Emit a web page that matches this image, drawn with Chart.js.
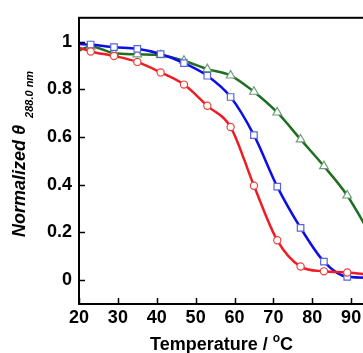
<!DOCTYPE html>
<html><head><meta charset="utf-8">
<script src="https://cdn.jsdelivr.net/npm/chart.js@4"></script>
<style>
html,body{margin:0;padding:0;overflow:hidden;background:#fff;width:363px;height:353px}
#wrap{position:absolute;left:0;top:0;width:420px;height:353px}
canvas{display:block}
</style></head>
<body><div id="wrap"><canvas id="c" width="420" height="353" style="width:420px;height:353px"></canvas></div>
<script>
// Temperature (°C) of each sample; first point (20) carries no marker
const temps = [20, 23, 29, 35, 41, 47, 53, 59, 65, 71, 77, 83, 89, 95];
const redSeries   = [0.975, 0.959, 0.940, 0.915, 0.871, 0.820, 0.731, 0.642, 0.396, 0.167, 0.057, 0.037, 0.032, 0.022];
const blueSeries  = [0.990, 0.988, 0.977, 0.970, 0.948, 0.910, 0.857, 0.768, 0.608, 0.392, 0.219, 0.078, 0.014, 0.010];
const greenSeries = [0.963, 0.980, 0.952, 0.947, 0.943, 0.920, 0.885, 0.858, 0.790, 0.703, 0.590, 0.478, 0.355, 0.190];
const xTicks = [20, 30, 40, 50, 60, 70, 80, 90, 100];
const yTicks = [0, 0.2, 0.4, 0.6, 0.8, 1];
const yTickLabels = ['0', '0.2', '0.4', '0.6', '0.8', '1'];
const xTitle = 'Temperature / ';
const xTitleSup = 'o';
const xTitleEnd = 'C';
const yTitle = 'Normalized \u03B8';
const yTitleSub = '288.0 nm';

function pts(vals){ return temps.map((t,i)=>({x:t, y:vals[i]})); }
const noFirst = ctx => ctx.dataIndex === 0 ? 0 : undefined;

function ds(label, vals, line, mark, style, r, order){
  return {
    label, data: pts(vals), borderColor: line, borderWidth: 2.5,
    cubicInterpolationMode: 'monotone', fill: false,
    pointStyle: style, pointBorderColor: mark, pointBackgroundColor: '#fff',
    pointBorderWidth: 1.2,
    pointRadius: ctx => ctx.dataIndex === 0 ? 0 : r,
    pointHoverRadius: r, order
  };
}

const decor = {
  id: 'decor',
  afterDraw(chart){
    const {ctx, chartArea:a, scales:{x, y}} = chart;
    ctx.save();
    ctx.strokeStyle = '#000';
    ctx.lineWidth = 2;
    ctx.strokeRect(a.left, a.top, a.right - a.left, a.bottom - a.top);
    ctx.lineWidth = 1.5;
    ctx.beginPath();
    yTicks.forEach(v => { const py = Math.round(y.getPixelForValue(v)) + 0.5; ctx.moveTo(a.left, py); ctx.lineTo(a.left + 6, py); });
    xTicks.forEach(v => { const px = Math.round(x.getPixelForValue(v)) + 0.5; ctx.moveTo(px, a.bottom); ctx.lineTo(px, a.bottom - 6); });
    ctx.stroke();
    // y title
    ctx.fillStyle = '#000';
    ctx.save();
    ctx.translate(25, 237);
    ctx.rotate(-Math.PI/2);
    ctx.font = 'italic bold 18px "Liberation Sans", Arial, sans-serif';
    ctx.textAlign = 'left'; ctx.textBaseline = 'alphabetic';
    ctx.fillText(yTitle, 0, 0);
    const w = ctx.measureText(yTitle).width;
    ctx.font = 'italic bold 11px "Liberation Sans", Arial, sans-serif';
    ctx.fillText(yTitleSub, w + 7, 8);
    ctx.restore();
    // x title
    ctx.font = 'bold 18px "Liberation Sans", Arial, sans-serif';
    ctx.textAlign = 'left'; ctx.textBaseline = 'alphabetic';
    let tx = 150;
    ctx.fillText(xTitle, tx, 350);
    tx += ctx.measureText(xTitle).width;
    ctx.font = 'bold 12px "Liberation Sans", Arial, sans-serif';
    ctx.fillText(xTitleSup, tx, 342);
    tx += ctx.measureText(xTitleSup).width;
    ctx.font = 'bold 18px "Liberation Sans", Arial, sans-serif';
    ctx.fillText(xTitleEnd, tx, 350);
    ctx.restore();
  }
};

const tickFont = {family: '"Liberation Sans", Arial, sans-serif', size: 18, weight: 'bold'};

new Chart(document.getElementById('c'), {
  type: 'line',
  data: { datasets: [
    ds('red', redSeries, '#ee1c24', '#e8453c', 'circle', 3.6, 1),
    ds('blue', blueSeries, '#0d0de6', '#5565dd', 'rect', 4.6, 2),
    ds('green', greenSeries, '#1f6e22', '#6e9e7c', 'triangle', 5, 3)
  ]},
  options: {
    responsive: false, animation: false, devicePixelRatio: 1,
    layout: { padding: { top: 13, right: 30, left: 0, bottom: 0 } },
    plugins: { legend: { display: false }, tooltip: { enabled: false } },
    scales: {
      x: {
        type: 'linear', min: 20, max: 100,
        afterBuildTicks: s => { s.ticks = xTicks.map(v => ({value: v})); },
        afterFit: s => { s.height = 49; },
        grid: { display: false, drawTicks: false }, border: { display: false },
        ticks: { color: '#000', font: tickFont, padding: 3, maxRotation: 0, autoSkip: false }
      },
      y: {
        min: -0.1, max: 1.1,
        afterBuildTicks: s => { s.ticks = yTicks.map(v => ({value: v})); },
        afterFit: s => { s.width = 79; },
        grid: { display: false, drawTicks: false }, border: { display: false },
        ticks: { color: '#000', font: tickFont, padding: 7,
          callback: v => { const i = yTicks.indexOf(v); return i >= 0 ? yTickLabels[i] : ''; } }
      }
    }
  },
  plugins: [decor]
});
</script>
</body></html>
